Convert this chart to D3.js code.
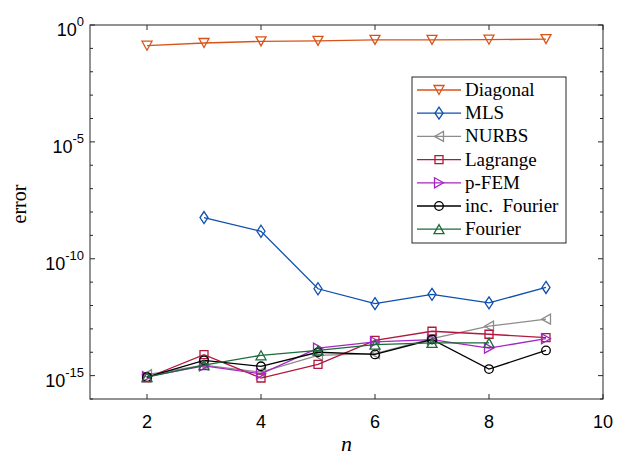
<!DOCTYPE html>
<html>
<head>
<meta charset="utf-8">
<script src="https://cdn.jsdelivr.net/npm/d3@7"></script>
<style>
  html, body { margin: 0; padding: 0; background: #fff; }
  svg { display: block; }
</style>
</head>
<body>
<svg id="chart" width="633" height="455"></svg>
<script>
// Data
const nValues = [2, 3, 4, 5, 6, 7, 8, 9];
const diagonal = [0.13, 0.17, 0.2, 0.21, 0.23, 0.23, 0.235, 0.25];
const mlsN = [3, 4, 5, 6, 7, 8, 9];
const mls = [5.8e-9, 1.5e-9, 5.2e-12, 1.2e-12, 3.0e-12, 1.3e-12, 5.9e-12];
const nurbs = [1.1e-15, 2.8e-15, 1.4e-15, 7.4e-15, 8.7e-15, 3.8e-14, 1.3e-13, 2.6e-13];
const lagrange = [8.1e-16, 7.9e-15, 7.9e-16, 3.0e-15, 3.2e-14, 7.9e-14, 5.9e-14, 4.2e-14];
const pfem = [9.1e-16, 2.6e-15, 1.2e-15, 1.5e-14, 2.8e-14, 3.5e-14, 1.5e-14, 3.8e-14];
const incFourier = [8.7e-16, 4.5e-15, 2.5e-15, 1.0e-14, 8.1e-15, 3.5e-14, 1.9e-15, 1.2e-14];
const fourierN = [2, 3, 4, 5, 6, 7, 8];
const fourier = [8.7e-16, 2.8e-15, 7.4e-15, 1.2e-14, 2.1e-14, 2.5e-14, 2.5e-14];

const xTicks = [2, 4, 6, 8, 10];
const yLabelExps = [0, -5, -10, -15];

const series = [
  { name: "Diagonal", xs: nValues, ys: diagonal, color: "#d95319", marker: "triDown" },
  { name: "MLS", xs: mlsN, ys: mls, color: "#0d4fae", marker: "diamond" },
  { name: "NURBS", xs: nValues, ys: nurbs, color: "#8c8c8c", marker: "triLeft" },
  { name: "Lagrange", xs: nValues, ys: lagrange, color: "#b0183d", marker: "square" },
  { name: "p-FEM", xs: nValues, ys: pfem, color: "#a526c4", marker: "triRight" },
  { name: "inc.\u00a0 Fourier", xs: nValues, ys: incFourier, color: "#000000", marker: "circle" },
  { name: "Fourier", xs: fourierN, ys: fourier, color: "#1c6b3a", marker: "triUp" },
];

const margin = { top: 25, right: 30, bottom: 56, left: 90 };
const width = 633, height = 455;
const axisColor = "#262626";
const serif = "'Liberation Serif', 'Times New Roman', serif";
const sans = "'Liberation Sans', Arial, sans-serif";

const $svg = d3.select("#chart");

const x = d3.scaleLinear()
  .domain([1, 10])
  .range([margin.left, width - margin.right]);

const y = d3.scaleLog()
  .domain([1e-16, 1])
  .range([height - margin.bottom, margin.top]);

// marker path, centred on 0,0
function markerPath(type) {
  switch (type) {
    case "triDown": return "M-5,-4.5L5,-4.5L0,4.5Z";
    case "triUp": return "M-5,4.5L5,4.5L0,-4.5Z";
    case "triLeft": return "M4.5,-5L4.5,5L-4.5,0Z";
    case "triRight": return "M-4.5,-5L-4.5,5L4.5,0Z";
    case "diamond": return "M0,-6L4,0L0,6L-4,0Z";
    case "square": return "M-4,-4L4,-4L4,4L-4,4Z";
    case "circle": return d3.symbol(d3.symbolCircle, Math.PI * 4.3 * 4.3)();
  }
}

// Axes box
const $axes = $svg.append("g").attr("id", "axes");
$axes.append("rect")
  .attr("x", x.range()[0])
  .attr("y", y.range()[1])
  .attr("width", x.range()[1] - x.range()[0])
  .attr("height", y.range()[0] - y.range()[1])
  .attr("fill", "none")
  .attr("stroke", axisColor)
  .attr("stroke-width", 1);

// x ticks (top and bottom, pointing inward)
const [yb, yt] = y.range();
$axes.selectAll("line.xtick")
  .data(xTicks.flatMap(t => [[t, yb, yb - 5], [t, yt, yt + 5]]))
  .join("line")
    .attr("class", "xtick")
    .attr("x1", d => x(d[0])).attr("x2", d => x(d[0]))
    .attr("y1", d => d[1]).attr("y2", d => d[2])
    .attr("stroke", axisColor);

$axes.selectAll("text.xlabel")
  .data(xTicks)
  .join("text")
    .attr("class", "xlabel")
    .attr("x", d => x(d))
    .attr("y", yb + 29)
    .attr("text-anchor", "middle")
    .attr("font-family", sans)
    .attr("font-size", 18)
    .attr("fill", "#000")
    .text(d => d);

// y ticks: every decade, longer at labelled ones
const [xl, xr] = x.range();
const decades = d3.range(-16, 1);
$axes.selectAll("line.ytick")
  .data(decades.flatMap(e => {
    const len = yLabelExps.includes(e) ? 5 : 3;
    return [[e, xl, xl + len], [e, xr, xr - len]];
  }))
  .join("line")
    .attr("class", "ytick")
    .attr("y1", d => y(Math.pow(10, d[0]))).attr("y2", d => y(Math.pow(10, d[0])))
    .attr("x1", d => d[1]).attr("x2", d => d[2])
    .attr("stroke", axisColor);

const $ylab = $axes.selectAll("text.ylabel")
  .data(yLabelExps)
  .join("text")
    .attr("class", "ylabel")
    .attr("x", xl - 6)
    .attr("y", d => y(Math.pow(10, d)) + 11)
    .attr("text-anchor", "end")
    .attr("font-family", sans)
    .attr("font-size", 18)
    .attr("fill", "#000");
$ylab.append("tspan").text("10");
$ylab.append("tspan")
  .attr("dy", -10)
  .attr("font-size", 13)
  .text(d => d);

// Axis titles
$svg.append("text")
  .attr("transform", `translate(26,${(yt + yb) / 2 - 8}) rotate(-90)`)
  .attr("text-anchor", "middle")
  .attr("font-family", serif)
  .attr("font-size", 20)
  .attr("fill", "#000")
  .text("error");

$svg.append("text")
  .attr("x", (xl + xr) / 2)
  .attr("y", 451)
  .attr("text-anchor", "middle")
  .attr("font-family", serif)
  .attr("font-style", "italic")
  .attr("font-size", 22)
  .attr("fill", "#000")
  .text("n");

// Series
const line = d3.line().x(d => x(d[0])).y(d => y(d[1]));
const $view = $svg.append("g").attr("id", "view");
series.forEach(s => {
  const pts = s.xs.map((v, i) => [v, s.ys[i]]);
  const $g = $view.append("g");
  $g.append("path")
    .attr("d", line(pts))
    .attr("fill", "none")
    .attr("stroke", s.color)
    .attr("stroke-width", 1.3);
  $g.selectAll("path.mk")
    .data(pts)
    .join("path")
      .attr("class", "mk")
      .attr("d", markerPath(s.marker))
      .attr("transform", d => `translate(${x(d[0])},${y(d[1])})`)
      .attr("fill", "none")
      .attr("stroke", s.color)
      .attr("stroke-width", 1.3);
});

// Legend
const legend = { x: 412, y: 77, w: 154, h: 166, row: 23.2 };
const $legend = $svg.append("g").attr("id", "legend");
$legend.append("rect")
  .attr("x", legend.x).attr("y", legend.y)
  .attr("width", legend.w).attr("height", legend.h)
  .attr("fill", "#fff")
  .attr("stroke", axisColor)
  .attr("stroke-width", 1);

const $items = $legend.selectAll("g.item")
  .data(series)
  .join("g")
    .attr("class", "item")
    .attr("transform", (d, i) => `translate(${legend.x},${legend.y + 13 + i * legend.row})`);
$items.append("line")
  .attr("x1", 5).attr("x2", 49)
  .attr("stroke", d => d.color)
  .attr("stroke-width", 1.3);
$items.append("path")
  .attr("d", d => markerPath(d.marker))
  .attr("transform", "translate(27,0)")
  .attr("fill", "none")
  .attr("stroke", d => d.color)
  .attr("stroke-width", 1.3);
$items.append("text")
  .attr("x", 53)
  .attr("y", 6)
  .attr("font-family", serif)
  .attr("font-size", 19)
  .attr("fill", "#000")
  .text(d => d.name);
</script>
</body>
</html>
